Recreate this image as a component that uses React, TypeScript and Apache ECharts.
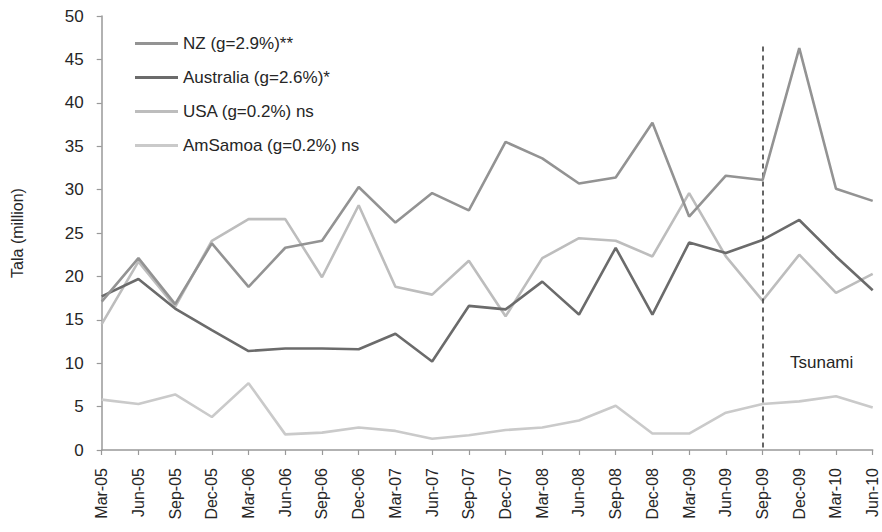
import React, { useEffect, useRef } from "react";
import * as echarts from "echarts";

const categories = [
  "Mar-05", "Jun-05", "Sep-05", "Dec-05",
  "Mar-06", "Jun-06", "Sep-06", "Dec-06",
  "Mar-07", "Jun-07", "Sep-07", "Dec-07",
  "Mar-08", "Jun-08", "Sep-08", "Dec-08",
  "Mar-09", "Jun-09", "Sep-09", "Dec-09",
  "Mar-10", "Jun-10",
];

const nz = [17.1, 22.1, 16.8, 23.8, 18.8, 23.3, 24.1, 30.3, 26.2, 29.6, 27.6, 35.5, 33.6, 30.7, 31.4, 37.7, 26.9, 31.6, 31.1, 46.3, 30.1, 28.7];
const australia = [17.7, 19.7, 16.3, 13.8, 11.4, 11.7, 11.7, 11.6, 13.4, 10.2, 16.6, 16.2, 19.4, 15.6, 23.3, 15.6, 23.9, 22.7, 24.2, 26.5, 22.3, 18.4];
const usa = [14.5, 21.7, 16.5, 24.1, 26.6, 26.6, 19.9, 28.2, 18.8, 17.9, 21.8, 15.4, 22.1, 24.4, 24.1, 22.3, 29.6, 22.3, 17.2, 22.5, 18.1, 20.3];
const amsamoa = [5.8, 5.3, 6.4, 3.8, 7.7, 1.8, 2.0, 2.6, 2.2, 1.3, 1.7, 2.3, 2.6, 3.4, 5.1, 1.9, 1.9, 4.3, 5.3, 5.6, 6.2, 4.9];

const seriesNames = ["NZ (g=2.9%)**", "Australia (g=2.6%)*", "USA (g=0.2%) ns", "AmSamoa (g=0.2%) ns"];
const seriesColors = ["#939393", "#6b6b6b", "#bdbdbd", "#cacaca"];
const yTicks = [0, 5, 10, 15, 20, 25, 30, 35, 40, 45, 50];
const eventCategory = "Sep-09";
const eventTop = 46.5;
const eventLabel = "Tsunami";

const FONT = "'Liberation Sans', Arial, sans-serif";
const TEXT = "#262626";

export default function App() {
  const ref = useRef<HTMLDivElement>(null);

  useEffect(() => {
    if (!ref.current) return;
    const chart = echarts.init(ref.current, undefined, { renderer: "svg" });
    const datasets = [nz, australia, usa, amsamoa];
    chart.setOption({
      animation: false,
      backgroundColor: "#ffffff",
      textStyle: { fontFamily: FONT },
      grid: { left: 101.7, right: 9.3, top: 16, bottom: 82, containLabel: false },
      legend: {
        orient: "vertical",
        left: 130,
        top: 30,
        itemWidth: 43,
        itemHeight: 3,
        itemGap: 17,
        icon: "rect",
        data: seriesNames,
        textStyle: { fontFamily: FONT, fontSize: 17, color: TEXT, lineHeight: 17 },
      },
      xAxis: {
        type: "category",
        data: categories,
        boundaryGap: false,
        axisLine: { lineStyle: { color: "#999999", width: 1.5 } },
        axisTick: { show: true, length: 5, lineStyle: { color: "#999999", width: 1.2 } },
        axisLabel: {
          rotate: 90,
          margin: 18,
          interval: 0,
          fontFamily: FONT,
          fontSize: 16,
          color: TEXT,
        },
        splitLine: { show: false },
      },
      yAxis: {
        type: "value",
        min: yTicks[0],
        max: yTicks[yTicks.length - 1],
        interval: 5,
        name: "Tala (million)",
        nameLocation: "middle",
        nameRotate: 90,
        nameGap: 76,
        nameTextStyle: { fontFamily: FONT, fontSize: 16, color: TEXT },
        axisLine: { show: true, lineStyle: { color: "#999999", width: 1.5 } },
        axisTick: { show: true, length: 5, lineStyle: { color: "#999999", width: 1.2 } },
        axisLabel: { margin: 18, fontFamily: FONT, fontSize: 17, color: TEXT },
        splitLine: { show: false },
      },
      series: datasets.map((d, i) => ({
        name: seriesNames[i],
        type: "line",
        data: d,
        symbol: "none",
        showSymbol: false,
        z: 2 + (3 - i),
        lineStyle: { color: seriesColors[i], width: 2.6 },
        itemStyle: { color: seriesColors[i] },
        ...(i === 0
          ? {
              markLine: {
                silent: true,
                symbol: ["none", "none"],
                label: { show: false },
                lineStyle: { color: "#333333", width: 1.5, type: [5, 4] },
                data: [[{ coord: [eventCategory, eventTop] }, { coord: [eventCategory, 0] }]],
              },
            }
          : {}),
      })),
      graphic: [
        {
          type: "text",
          left: 790,
          top: 354,
          style: { text: eventLabel, fontFamily: FONT, fontSize: 17, fill: TEXT },
        },
      ],
    });
    return () => chart.dispose();
  }, []);

  return <div ref={ref} style={{ width: 882, height: 532, position: "absolute", left: 0, top: 0 }} />;
}
